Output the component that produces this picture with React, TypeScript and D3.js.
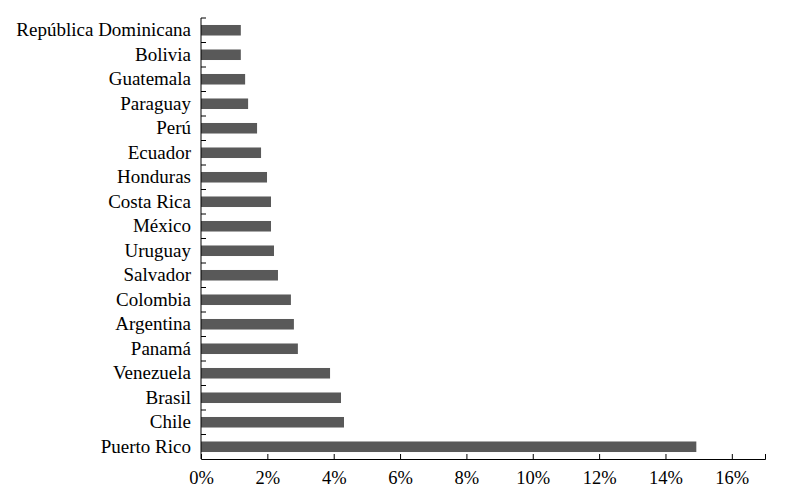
import { useEffect, useRef } from 'react';
import * as d3 from 'd3';

const countries = [
  'República Dominicana', 'Bolivia', 'Guatemala', 'Paraguay', 'Perú', 'Ecuador',
  'Honduras', 'Costa Rica', 'México', 'Uruguay', 'Salvador', 'Colombia',
  'Argentina', 'Panamá', 'Venezuela', 'Brasil', 'Chile', 'Puerto Rico',
];
const shares = [
  1.2, 1.2, 1.33, 1.42, 1.69, 1.81,
  1.99, 2.11, 2.11, 2.2, 2.32, 2.71,
  2.8, 2.92, 3.89, 4.22, 4.31, 14.93,
];
const xTicks = [0, 2, 4, 6, 8, 10, 12, 14, 16];
const xMax = 17;

const App = () => {
  const svgRef = useRef<SVGSVGElement>(null);
  const width = 798;
  const height = 492;
  const margins = { top: 18, right: 33, bottom: 33, left: 201 };
  const font = 'Liberation Serif, DejaVu Serif, serif';

  useEffect(() => {
    const svg = d3.select(svgRef.current);
    svg.selectAll('*').remove();

    const data = countries.map((c, i) => ({ country: c, value: shares[i] }));

    const x = d3.scaleLinear()
      .domain([0, xMax])
      .range([margins.left, width - margins.right]);

    const y = d3.scaleBand()
      .domain(countries)
      .range([margins.top, height - margins.bottom])
      .paddingInner(0.57)
      .paddingOuter(0.285);

    svg.append('g')
      .selectAll('rect')
      .data(data)
      .join('rect')
      .attr('x', x(0))
      .attr('y', d => y(d.country))
      .attr('width', d => x(d.value) - x(0))
      .attr('height', y.bandwidth())
      .attr('fill', '#595959');

    // x axis, ticks pointing up
    const xAxis = d3.axisBottom(x)
      .tickValues(xTicks)
      .tickSizeInner(-5)
      .tickSizeOuter(-5)
      .tickPadding(12)
      .tickFormat(d => d + '%');

    const gx = svg.append('g')
      .attr('transform', `translate(0, ${height - margins.bottom})`)
      .call(xAxis);
    gx.attr('font-family', font).attr('font-size', 18.5);
    gx.selectAll('text').attr('fill', '#000');

    // y axis line + boundary ticks
    const gy = svg.append('g')
      .attr('font-family', font)
      .attr('font-size', 19);
    gy.append('line')
      .attr('x1', margins.left).attr('x2', margins.left)
      .attr('y1', margins.top).attr('y2', height - margins.bottom)
      .attr('stroke', '#000');
    const bounds = d3.range(countries.length).map(i => y.range()[0] + i * y.step());
    gy.selectAll('line.tick')
      .data(bounds)
      .join('line')
      .attr('class', 'tick')
      .attr('x1', margins.left).attr('x2', margins.left + 5)
      .attr('y1', d => d).attr('y2', d => d)
      .attr('stroke', '#000');

    gy.selectAll('text')
      .data(countries)
      .join('text')
      .attr('x', margins.left - 10)
      .attr('y', d => y(d) + y.bandwidth() / 2)
      .attr('dy', '0.32em')
      .attr('text-anchor', 'end')
      .text(d => d);
  }, []);

  return (
    <div>
      <svg ref={svgRef} width={width} height={height}
        style={{ position: 'absolute', left: 0, top: 0, background: '#fff' }}></svg>
    </div>
  );
};

export default App;
